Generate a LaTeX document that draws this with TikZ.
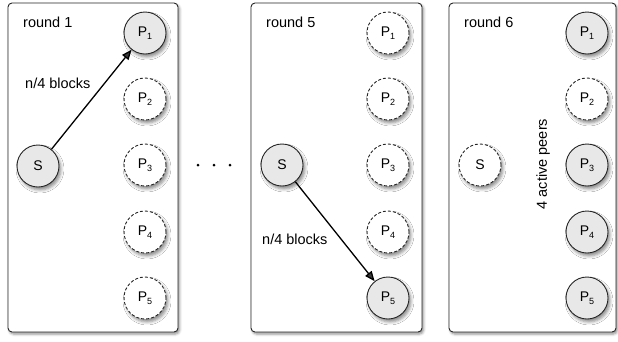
\documentclass[tikz,border=0pt]{standalone}
\usepackage{fontspec}
\setmainfont{Liberation Sans}
\usetikzlibrary{arrows.meta,shadows.blur}
% peer name with a lowered index in the text font
\newcommand{\pname}[1]{P\raisebox{-0.35ex}{\fontsize{9}{10}\selectfont #1}}
\begin{document}
\begin{tikzpicture}[x=1pt,y=-1pt,
  panel/.style={draw=black!85,line width=0.9pt,rounded corners=4pt,fill=white,
    blur shadow={shadow xshift=1.5pt,shadow yshift=-2pt,shadow blur radius=2.5pt,shadow opacity=45}},
  peer/.style={circle,draw=black!85,line width=0.9pt,minimum size=42pt,inner sep=0pt,
    fill=black!9,font=\fontsize{14}{16}\selectfont,
    blur shadow={shadow xshift=2pt,shadow yshift=-3pt,shadow blur radius=3pt,shadow opacity=45}},
  idle/.style={peer,fill=white,dash pattern=on 3pt off 2pt},
  lbl/.style={font=\fontsize{14.5}{17}\selectfont,inner sep=0pt},
  send/.style={-{Triangle[length=10pt,width=8pt]},line width=1.3pt}]
\useasboundingbox (0,0) rectangle (618,341);

% round 1
\draw[panel] (8,3) rectangle (178,332);
\node[lbl,anchor=base west] (r1) at (23,27) {round 1};
\node[peer] (a1) at (145,33) {\pname{1}};
\node[idle] (a2) at (145,99) {\pname{2}};
\node[idle] (a3) at (145,165) {\pname{3}};
\node[idle] (a4) at (145,232) {\pname{4}};
\node[idle] (a5) at (145,298) {\pname{5}};
\node[peer] (as) at (38,166) {S};
\draw[send] (as) -- (a1);
\node[lbl,anchor=base west] (b1) at (25,88) {n/4 blocks};

% ellipsis between rounds
\foreach \i/\x in {1/198,2/214,3/230}
  \fill (\x,165) circle (1.5pt) coordinate (d\i);

% round 5
\draw[panel] (251,3) rectangle (422,332);
\node[lbl,anchor=base west] (r5) at (266,27) {round 5};
\node[idle] (c1) at (388,33) {\pname{1}};
\node[idle] (c2) at (388,99) {\pname{2}};
\node[idle] (c3) at (388,165) {\pname{3}};
\node[idle] (c4) at (388,232) {\pname{4}};
\node[peer] (c5) at (388,298) {\pname{5}};
\node[peer] (cs) at (282,165) {S};
\draw[send] (cs) -- (c5);
\node[lbl,anchor=base west] (b5) at (262,244) {n/4 blocks};

% round 6
\draw[panel] (449,3) rectangle (616,332);
\node[lbl,anchor=base west] (r6) at (464,27) {round 6};
\node[peer] (e1) at (587,33) {\pname{1}};
\node[idle] (e2) at (587,99) {\pname{2}};
\node[peer] (e3) at (587,165) {\pname{3}};
\node[peer] (e4) at (587,232) {\pname{4}};
\node[peer] (e5) at (587,298) {\pname{5}};
\node[idle] (es) at (480,165) {S};
\node[lbl,rotate=90] (act) at (543,164) {4 active peers};
\end{tikzpicture}
\end{document}
